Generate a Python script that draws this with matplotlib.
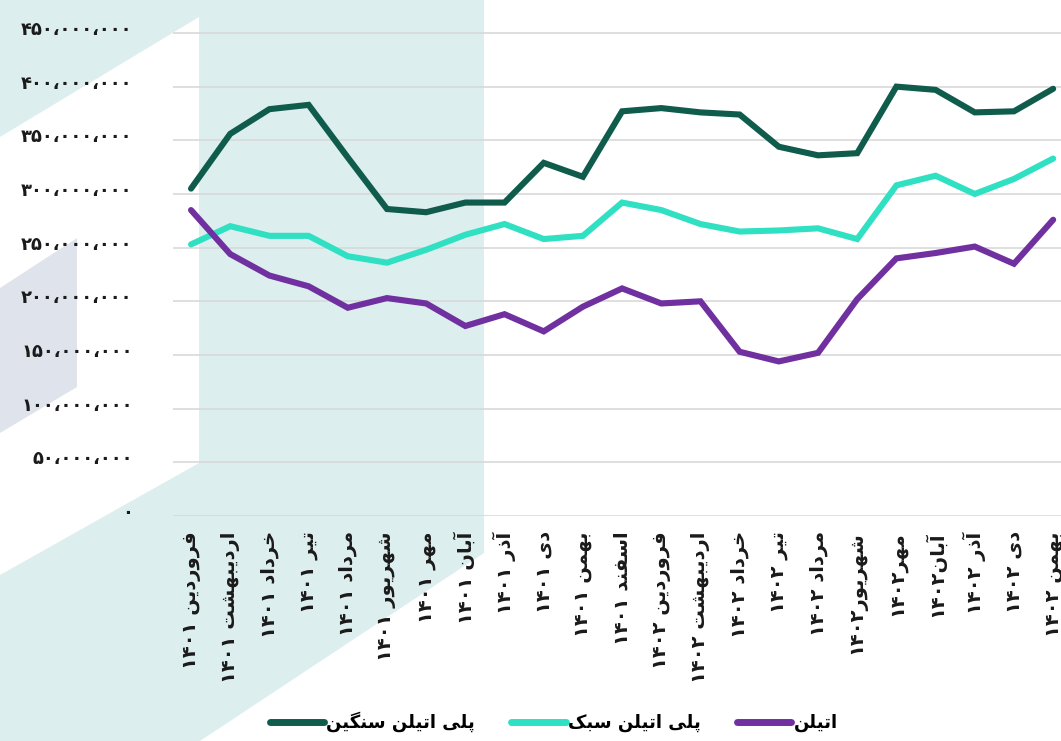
import re

import numpy as np
import matplotlib
matplotlib.use("Agg")
from matplotlib import pyplot as plt
from matplotlib.lines import Line2D
from matplotlib.patches import Polygon
from matplotlib.ticker import FuncFormatter
import matplotlib.transforms as mtransforms

# ---- data -------------------------------------------------------------
months = ["فروردین ۱۴۰۱", "اردیبهشت ۱۴۰۱", "خرداد ۱۴۰۱", "تیر ۱۴۰۱",
          "مرداد ۱۴۰۱", "شهریور ۱۴۰۱", "مهر ۱۴۰۱", "آبان ۱۴۰۱",
          "آذر ۱۴۰۱", "دی ۱۴۰۱", "بهمن ۱۴۰۱", "اسفند ۱۴۰۱",
          "فروردین ۱۴۰۲", "اردیبهشت ۱۴۰۲", "خرداد ۱۴۰۲", "تیر ۱۴۰۲",
          "مرداد ۱۴۰۲", "شهریور۱۴۰۲", "مهر۱۴۰۲", "آبان۱۴۰۲",
          "آذر ۱۴۰۲", "دی ۱۴۰۲", "بهمن ۱۴۰۲"]

# values in million rial
heavy_pe = [305, 356, 379, 383, 334, 286, 283, 292, 292, 329, 316, 377,
            380, 376, 374, 344, 336, 338, 400, 397, 376, 377, 398]
light_pe = [253, 270, 261, 261, 242, 236, 248, 262, 272, 258, 261, 292,
            285, 272, 265, 266, 268, 258, 308, 317, 300, 314, 333]
ethylene = [285, 244, 224, 214, 194, 203, 198, 177, 188, 172, 195, 212,
            198, 200, 153, 144, 152, 202, 240, 245, 251, 235, 276]

series_names  = ["پلی اتیلن سنگین", "پلی اتیلن سبک", "اتیلن"]
series_colors = ["#0f5c4c", "#30e0c2", "#7030a0"]
y_ticks       = np.arange(0, 450_000_001, 50_000_000)

# ---- persian shaping (no bidi lib available) ---------------------------
# isolated, final, initial, medial
FORMS = {
    "ا": ("\uFE8D", "\uFE8E", None, None),
    "آ": ("\uFE81", "\uFE82", None, None),
    "ب": ("\uFE8F", "\uFE90", "\uFE91", "\uFE92"),
    "پ": ("\uFB56", "\uFB57", "\uFB58", "\uFB59"),
    "ت": ("\uFE95", "\uFE96", "\uFE97", "\uFE98"),
    "خ": ("\uFEA5", "\uFEA6", "\uFEA7", "\uFEA8"),
    "د": ("\uFEA9", "\uFEAA", None, None),
    "ذ": ("\uFEAB", "\uFEAC", None, None),
    "ر": ("\uFEAD", "\uFEAE", None, None),
    "ز": ("\uFEAF", "\uFEB0", None, None),
    "س": ("\uFEB1", "\uFEB2", "\uFEB3", "\uFEB4"),
    "ش": ("\uFEB5", "\uFEB6", "\uFEB7", "\uFEB8"),
    "ف": ("\uFED1", "\uFED2", "\uFED3", "\uFED4"),
    "ک": ("\uFB8E", "\uFB8F", "\uFB90", "\uFB91"),
    "گ": ("\uFB92", "\uFB93", "\uFB94", "\uFB95"),
    "ل": ("\uFEDD", "\uFEDE", "\uFEDF", "\uFEE0"),
    "م": ("\uFEE1", "\uFEE2", "\uFEE3", "\uFEE4"),
    "ن": ("\uFEE5", "\uFEE6", "\uFEE7", "\uFEE8"),
    "ه": ("\uFEE9", "\uFEEA", "\uFEEB", "\uFEEC"),
    "و": ("\uFEED", "\uFEEE", None, None),
    "ی": ("\uFBFC", "\uFBFD", "\uFBFE", "\uFBFF"),
}
FA_DIGITS = "۰۱۲۳۴۵۶۷۸۹"


def shape_fa(text):
    """Contextual forms + visual (LTR) order, digit runs kept LTR."""
    out = []
    for i, ch in enumerate(text):
        forms = FORMS.get(ch)
        if forms is None:
            out.append(ch)
            continue
        prev = text[i - 1] if i > 0 else ""
        nxt  = text[i + 1] if i + 1 < len(text) else ""
        join_prev = prev in FORMS and FORMS[prev][2] is not None
        join_next = forms[2] is not None and nxt in FORMS
        if join_prev and join_next:
            out.append(forms[3])
        elif join_prev:
            out.append(forms[1])
        elif join_next:
            out.append(forms[2])
        else:
            out.append(forms[0])
    runs = re.findall(r"[۰-۹]+|[^۰-۹]+", "".join(out))
    return "".join(r if r[0] in FA_DIGITS else r[::-1] for r in reversed(runs))


def fa_number(v, pos=None):
    s = f"{int(round(v)):,}"
    return s.translate(str.maketrans("0123456789,", FA_DIGITS + "،"))


# ---- figure -----------------------------------------------------------
plt.rcParams["font.family"] = ["DejaVu Sans"]
W, H = 1061, 741
fig = plt.figure(figsize=(W / 100, H / 100), dpi=100)


def px(x, y):
    return (x / W, 1 - y / H)


# decorative background shapes
teal_bg = "#dcefee"
bg_shapes = [
    ([(0, 0), (199, 0), (199, 17), (0, 137)], teal_bg),
    ([(199, 0), (484, 0), (484, 553), (200, 741), (0, 741), (0, 575),
      (199, 463)], teal_bg),
    ([(0, 288), (77, 238), (77, 387), (0, 433)], "#dfe3ec"),
]
for pts, col in bg_shapes:
    fig.add_artist(Polygon([px(*p) for p in pts], closed=True,
                           transform=fig.transFigure, facecolor=col,
                           edgecolor="none", zorder=-1))

ax = fig.add_axes([173 / W, 1 - 516 / H, 1 - 173 / W, 516 / H])
ax.set_facecolor("none")

x = np.arange(len(months))
for vals, col in zip([heavy_pe, light_pe, ethylene], series_colors):
    ax.plot(x, np.array(vals) * 1e6, color=col, lw=4.4,
            solid_capstyle="round", solid_joinstyle="miter", zorder=3)

ax.set_xlim(-0.46, 22.2)
ax.set_ylim(0, 480.7e6)
ax.set_yticks(y_ticks)
ax.yaxis.set_major_formatter(FuncFormatter(fa_number))
ax.grid(axis="y", color="#d9d9d9", lw=1.2)
ax.set_axisbelow(True)
for s in ax.spines.values():
    s.set_visible(False)

ax.set_xticks(x)
ax.set_xticklabels([shape_fa(m) for m in months], rotation=90,
                   fontsize=14, fontweight="bold", color="#1a1a1a")
ax.tick_params(axis="x", length=0, pad=11)
ax.tick_params(axis="y", length=0, pad=29, labelsize=13,
               labelcolor="#1a1a1a")
for lab in ax.get_yticklabels():
    lab.set_fontweight("bold")
    lab.set_transform(lab.get_transform() +
                      mtransforms.ScaledTranslation(0, 5 / 100,
                                                    fig.dpi_scale_trans))

handles = [Line2D([], [], color=c, lw=5, solid_capstyle="round")
           for c in series_colors]
fig.legend(handles, [shape_fa(n) for n in series_names], ncol=3,
           loc="center", bbox_to_anchor=(0.522, 1 - 722 / H), frameon=False,
           handlelength=3.0, handletextpad=0.15, columnspacing=2.0,
           prop={"size": 13, "weight": "bold"})

fig.savefig("out.png", dpi=100)
